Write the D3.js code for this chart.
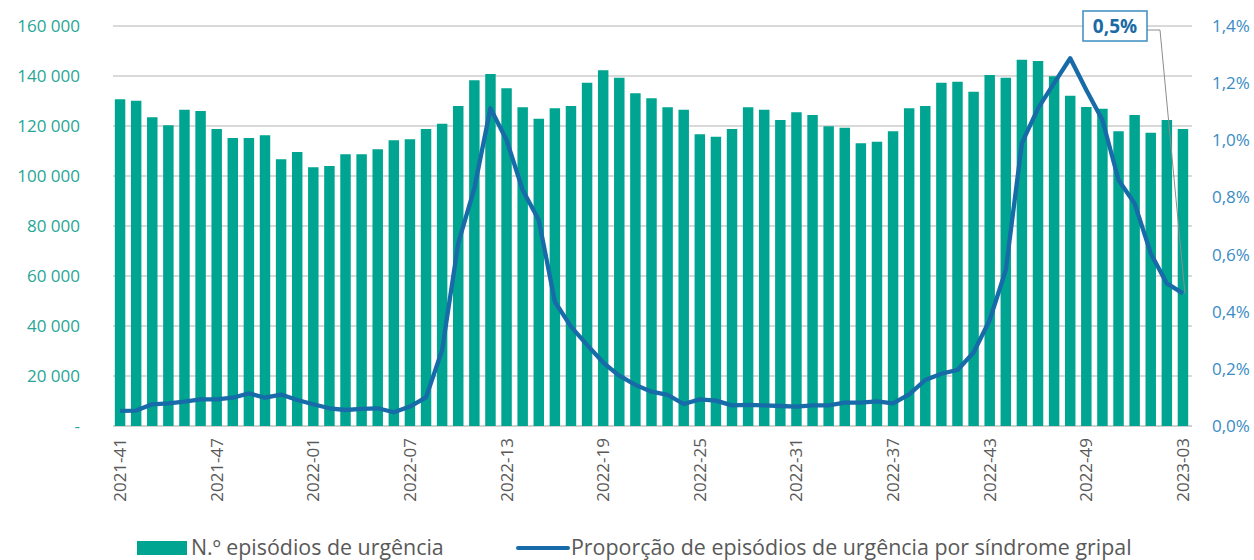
<!DOCTYPE html>
<html>
<head>
<meta charset="utf-8">
<script src="https://cdn.jsdelivr.net/npm/d3@7"></script>
<style>
  html, body { margin: 0; padding: 0; background: #fff; }
  svg { display: block; font-family: "Open Sans", "Noto Sans", sans-serif; }
</style>
</head>
<body>
<svg id="chart" width="1254" height="560"></svg>
<script>
// ---- Data ----
const weeks = [
  "2021-41","2021-42","2021-43","2021-44","2021-45","2021-46","2021-47","2021-48","2021-49","2021-50","2021-51","2021-52",
  "2022-01","2022-02","2022-03","2022-04","2022-05","2022-06","2022-07","2022-08","2022-09","2022-10","2022-11","2022-12",
  "2022-13","2022-14","2022-15","2022-16","2022-17","2022-18","2022-19","2022-20","2022-21","2022-22","2022-23","2022-24",
  "2022-25","2022-26","2022-27","2022-28","2022-29","2022-30","2022-31","2022-32","2022-33","2022-34","2022-35","2022-36",
  "2022-37","2022-38","2022-39","2022-40","2022-41","2022-42","2022-43","2022-44","2022-45","2022-46","2022-47","2022-48",
  "2022-49","2022-50","2022-51","2022-52","2023-01","2023-02","2023-03"
];
const episodes = [
  130700,130100,123500,120300,126500,126000,118800,115200,115200,116300,106700,109600,
  103500,104000,108700,108700,110700,114300,114700,118800,120900,128000,138300,140800,
  135100,127500,122900,127100,128000,137300,142300,139300,133100,131100,127500,126500,
  116700,115700,118800,127500,126500,122400,125500,124400,119900,119300,113100,113700,
  117900,127100,128000,137300,137700,133700,140400,139300,146500,146000,139900,132100,
  127600,126900,117900,124400,117300,122400,118800
];
const proportion = [
  0.053,0.054,0.076,0.079,0.085,0.093,0.093,0.099,0.114,0.099,0.110,0.091,
  0.076,0.062,0.056,0.060,0.062,0.048,0.068,0.100,0.266,0.640,0.832,1.112,
  1.001,0.826,0.721,0.435,0.348,0.284,0.222,0.176,0.144,0.120,0.109,0.077,
  0.093,0.089,0.072,0.074,0.072,0.070,0.068,0.072,0.072,0.082,0.082,0.086,
  0.079,0.111,0.161,0.183,0.196,0.257,0.371,0.546,0.990,1.112,1.200,1.287,
  1.176,1.071,0.861,0.779,0.604,0.499,0.464
];
const tickWeeks = ["2021-41","2021-47","2022-01","2022-07","2022-13","2022-19","2022-25","2022-31","2022-37","2022-43","2022-49","2023-03"];
const leftTicks = [0,20000,40000,60000,80000,100000,120000,140000,160000];
const leftTickLabels = ["-","20 000","40 000","60 000","80 000","100 000","120 000","140 000","160 000"];
const rightTicks = [0,0.2,0.4,0.6,0.8,1.0,1.2,1.4];
const rightTickLabels = ["0,0%","0,2%","0,4%","0,6%","0,8%","1,0%","1,2%","1,4%"];
const seriesNames = ["N.º episódios de urgência","Proporção de episódios de urgência por síndrome gripal"];
const annotationText = "0,5%";

// ---- Layout ----
const svg = d3.select("#chart");
const plot = { left: 112, right: 1191, top: 26, bottom: 426 };
const barColor = "#00a591";
const lineColor = "#166ba8";
const leftColor = "#26a696";
const rightColor = "#3a8cc4";

const x = d3.scaleBand().domain(weeks).range([plot.left, plot.right]).paddingInner(0.35).paddingOuter(0.175);
const yL = d3.scaleLinear().domain([0,160000]).range([plot.bottom, plot.top]);
const yR = d3.scaleLinear().domain([0,1.4]).range([plot.bottom, plot.top]);

// gridlines
svg.append("g").selectAll("line").data(leftTicks).join("line")
  .attr("x1", plot.left + 1).attr("x2", plot.right + 1)
  .attr("y1", d => yL(d)).attr("y2", d => yL(d))
  .attr("stroke", (d) => d === 0 ? "#d0d0d0" : "#d9d9d9")
  .attr("stroke-width", 2);

// bars
svg.append("g").selectAll("rect").data(weeks).join("rect")
  .attr("x", d => x(d))
  .attr("width", x.bandwidth())
  .attr("y", (d,i) => yL(episodes[i]))
  .attr("height", (d,i) => yL(0) - yL(episodes[i]))
  .attr("fill", barColor);

// line
const line = d3.line()
  .x((d,i) => x(weeks[i]) + x.bandwidth()/2)
  .y(d => yR(d));
svg.append("path").datum(proportion)
  .attr("d", line)
  .attr("fill", "none")
  .attr("stroke", lineColor)
  .attr("stroke-width", 4.3)
  .attr("stroke-linejoin", "round");

// left axis
const axL = d3.axisLeft(yL).tickValues(leftTicks).tickSize(0).tickPadding(0)
  .tickFormat((d,i) => leftTickLabels[i]);
const gL = svg.append("g").attr("transform", `translate(${plot.left - 32},0)`).call(axL);
gL.select(".domain").remove();
gL.selectAll("text").attr("fill", leftColor).style("font-size", "17px").style("font-family", "'Open Sans', sans-serif");

// right axis
const axR = d3.axisRight(yR).tickValues(rightTicks).tickSize(0).tickPadding(0)
  .tickFormat((d,i) => rightTickLabels[i]);
const gR = svg.append("g").attr("transform", `translate(${plot.right + 21},0)`).call(axR);
gR.select(".domain").remove();
gR.selectAll("text").attr("fill", rightColor).style("font-size", "17px").style("font-family", "'Open Sans', sans-serif");

// bottom axis
const axB = d3.axisBottom(x).tickValues(tickWeeks).tickSize(0).tickPadding(0);
const gB = svg.append("g").attr("transform", `translate(0,${plot.bottom})`).call(axB);
gB.select(".domain").remove();
gB.selectAll("text")
  .attr("fill", "#595959")
  .style("font-size", "17px").style("font-family", "'Open Sans', sans-serif")
  .attr("text-anchor", "end")
  .attr("transform", "rotate(-90)")
  .attr("x", -12).attr("y", 0).attr("dy", "0.35em");

// annotation (last point)
const lastI = weeks.length - 1;
const px = x(weeks[lastI]) + x.bandwidth()/2;
const py = yR(proportion[lastI]);
const box = { x: 1083, y: 11, w: 64, h: 30 };
svg.append("path")
  .attr("d", `M${box.x + box.w},${box.y + box.h/2 + 4} L1160,${box.y + box.h/2 + 4} L${px + 2},${py}`)
  .attr("fill", "none").attr("stroke", "#8c8c8c").attr("stroke-width", 1);
svg.append("rect")
  .attr("x", box.x).attr("y", box.y).attr("width", box.w).attr("height", box.h)
  .attr("fill", "#fff").attr("stroke", rightColor).attr("stroke-width", 1.5);
svg.append("text")
  .attr("x", box.x + box.w/2).attr("y", box.y + box.h/2 + 7)
  .attr("text-anchor", "middle")
  .attr("fill", "#1a6aa5")
  .style("font-size", "19px").style("font-weight", "bold")
  .text(annotationText);

// legend
const lg = svg.append("g");
lg.append("rect").attr("x", 137).attr("y", 541).attr("width", 50).attr("height", 14).attr("fill", barColor);
lg.append("text").attr("x", 191).attr("y", 555).attr("fill", "#595959").style("font-size", "21.4px").text(seriesNames[0]);
lg.append("line").attr("x1", 518).attr("x2", 568).attr("y1", 548).attr("y2", 548)
  .attr("stroke", lineColor).attr("stroke-width", 4).attr("stroke-linecap", "round");
lg.append("text").attr("x", 571).attr("y", 555).attr("fill", "#595959").style("font-size", "21.4px").text(seriesNames[1]);
</script>
</body>
</html>
